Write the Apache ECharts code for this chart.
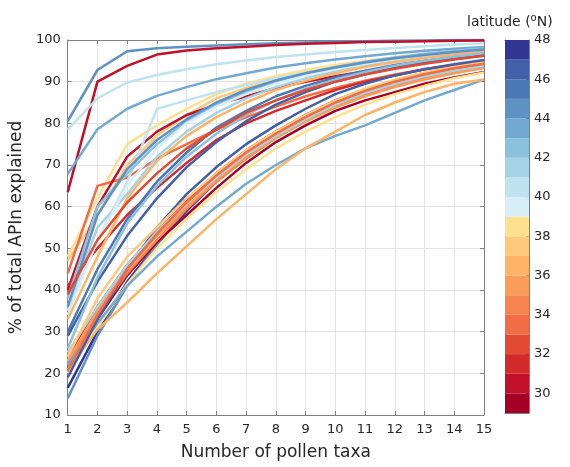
<!DOCTYPE html>
<html>
<head>
<meta charset="utf-8">
<title>APIn vs pollen taxa</title>
<script src="https://cdn.jsdelivr.net/npm/echarts@6/dist/echarts.min.js"></script>
<style>
  html, body { margin: 0; padding: 0; background: #fff; }
  #main { width: 570px; height: 467px; }
</style>
</head>
<body>
<div id="main"></div>
<script type="text/javascript">
// number of pollen taxa (x)
var taxa = [1, 2, 3, 4, 5, 6, 7, 8, 9, 10, 11, 12, 13, 14, 15];

// % of total APIn explained, one array per site
var s01 = [80.5, 92.8, 97.3, 98, 98.4, 98.7, 99, 99.2, 99.4, 99.6, 99.7, 99.8, 99.9, 100, 100];
var s02 = [63.5, 90, 93.8, 96.5, 97.5, 98, 98.4, 98.8, 99.1, 99.3, 99.5, 99.6, 99.7, 99.8, 99.9];
var s03 = [78.5, 86, 89.8, 91.6, 93, 94.2, 95.1, 95.9, 96.5, 97.1, 97.6, 98.1, 98.5, 98.9, 99.2];
var s04 = [67.8, 78.6, 83.5, 86.6, 88.7, 90.6, 92, 93.4, 94.4, 95.3, 96.1, 96.8, 97.4, 97.9, 98.3];
var s05 = [48, 62, 75, 79.5, 83.5, 87, 89.5, 91.3, 92.8, 94, 95, 95.8, 96.6, 97.2, 97.8];
var s06 = [47, 58, 70, 77, 82, 86, 88.5, 90.5, 92, 93.5, 94.7, 95.7, 96.4, 97, 97.5];
var s07 = [44, 65, 67, 71.5, 75, 78.5, 81.5, 84, 86.5, 88.5, 90.2, 91.7, 93, 94, 95];
var s08 = [40, 60, 72, 78, 82, 84.5, 86.5, 88.5, 90, 91.3, 92.5, 93.5, 94.5, 95.5, 96.5];
var s09 = [41, 50, 58, 64.5, 70.5, 76, 80, 83, 85.5, 88, 90, 91.5, 93, 94, 95];
var s10 = [35, 52, 66, 83.5, 85.5, 87.5, 89.2, 90.8, 92.2, 93.4, 94.4, 95.3, 96.1, 96.8, 97.4];
var s11 = [30, 45, 57, 66, 73, 79, 83, 86.5, 89, 91, 92.6, 94, 95, 96, 96.6];
var s12 = [38, 60, 68, 75, 80.5, 84.5, 87.5, 90, 92, 93.5, 94.8, 95.8, 96.7, 97.4, 98];
var s13 = [36, 55, 63, 72, 78, 82.5, 86, 88.7, 90.8, 92.5, 94, 95.2, 96.1, 96.9, 97.5];
var s14 = [34, 52, 65, 74, 80, 84, 87, 89.5, 91.5, 93, 94.3, 95.4, 96.3, 97, 97.6];
var s15 = [33, 48, 62, 71, 77, 81.5, 85, 88, 90.2, 92, 93.5, 94.7, 95.7, 96.5, 97.2];
var s16 = [36, 58, 69, 76, 81, 85, 88, 90.3, 92, 93.4, 94.6, 95.6, 96.4, 97.1, 97.7];
var s17 = [29, 42, 53, 62, 69.5, 75.5, 80.5, 84.5, 87.5, 90, 91.8, 93.3, 94.5, 95.5, 96.3];
var s18 = [26, 43, 56, 65, 72, 77.5, 82, 85.5, 88.3, 90.5, 92.3, 93.8, 95, 96, 96.8];
var s19 = [39, 52, 61, 68, 74, 78.5, 82.5, 85.5, 88, 90, 91.7, 93.1, 94.3, 95.3, 96.2];
var s20 = [16.5, 30, 42, 51, 59, 66, 72, 77, 81.5, 85, 88, 90.3, 92, 93, 94];
var s21 = [14, 29, 41, 51, 59.5, 66.5, 72.5, 77.5, 82, 85.5, 88.2, 90.3, 92, 93.3, 94.5];
var s22 = [21, 33, 43.5, 51.5, 58, 64.5, 70.5, 75.5, 79.5, 83, 85.5, 87.5, 89.5, 91, 92.3];
var s23 = [24, 36, 46, 54, 61.5, 68, 73.5, 78, 82, 85.5, 88, 90, 91.7, 93, 94];
var s24 = [22.5, 34, 44, 52, 59.5, 66, 71.5, 76.5, 80.5, 84, 86.8, 89, 91, 92.5, 93.7];
var s25 = [23, 35, 45, 53, 60, 66.5, 72, 76.5, 80.5, 83.8, 86.5, 88.7, 90.5, 92, 93.3];
var s26 = [20, 31, 41.5, 50, 57, 63.5, 69, 74, 78, 81.5, 84.5, 87, 89, 90.8, 92.2];
var s27 = [22, 32, 41, 48, 54, 60, 65.5, 70, 74, 77, 79.5, 82.5, 85.5, 88, 90.5];
var s28 = [21, 30.5, 37, 44, 50.5, 57, 63, 69, 74, 78, 82, 85, 87.5, 89.5, 90.5];
var s29 = [19, 33, 45, 55, 63, 69.5, 75, 79.5, 83.5, 87, 89.5, 91.5, 93, 94.2, 95.2];
var s30 = [25, 36, 46, 54, 61, 67, 72.5, 77, 81, 84.5, 87.3, 89.5, 91.3, 92.7, 93.8];
var s31 = [24, 38, 48, 55, 62, 68, 73.5, 78, 82, 85.5, 88.3, 90.5, 92.2, 93.5, 94.6];
var s32 = [20.5, 34, 45, 53.5, 61, 67.5, 73, 77.5, 81.5, 85, 87.8, 90, 91.8, 93.2, 94.3];

var siteVals = [s01, s02, s03, s04, s05, s06, s07, s08, s09, s10, s11, s12, s13, s14, s15, s16,
                s17, s18, s19, s20, s21, s22, s23, s24, s25, s26, s27, s28, s29, s30, s31, s32];
// latitude (°N) of each site
var siteLat = [44.3, 30.5, 40.2, 43.4, 38.4, 37.5, 33.5, 30.2, 31.4, 40.5, 45.3, 42.2,
               41.3, 39.3, 36.5, 44.1, 46.2, 42.6, 32.4, 47.6, 44.8, 29.5, 31.6, 34.3,
               35.4, 38.6, 43.2, 36.3, 46.5, 41.6, 37.2, 33.3];

// colorbar bins (lower edge) and colours
var latBins = [29, 30, 31, 32, 33, 34, 35, 36, 37, 38, 39, 40, 41, 42, 43, 44, 45, 46, 47];
var binColors = ['#a50026', '#c0102a', '#d42a2b', '#e34a33', '#f26c45', '#f7834e', '#fb9d5a',
                 '#fdb466', '#fec97c', '#fee08f', '#d8eef6', '#bfe3ef', '#a5d3e6', '#8cc1dc',
                 '#72a9d0', '#5e92c4', '#4d78b6', '#4260a9', '#313695'];
var cbTicks = [30, 32, 34, 36, 38, 40, 42, 44, 46, 48];

function latColor(lat) {
    var i = Math.floor(lat) - latBins[0];
    if (i < 0) i = 0;
    if (i > binColors.length - 1) i = binColors.length - 1;
    return binColors[i];
}

var myChart = echarts.init(document.getElementById('main'));

var series = [];
for (var k = 0; k < siteVals.length; k++) {
    var pts = [];
    for (var j = 0; j < taxa.length; j++) {
        pts.push([taxa[j], siteVals[k][j]]);
    }
    series.push({
        type: 'line',
        xAxisIndex: 0,
        yAxisIndex: 0,
        data: pts,
        showSymbol: false,
        symbol: 'none',
        silent: true,
        lineStyle: { width: 2.5, color: latColor(siteLat[k]) },
        z: 3
    });
}

// colorbar: stacked bars on a second grid
series.push({
    type: 'bar',
    xAxisIndex: 2,
    yAxisIndex: 2,
    stack: 'cb',
    data: [latBins[0]],
    barWidth: '100%',
    itemStyle: { color: 'rgba(0,0,0,0)' },
    silent: true
});
for (var b = 0; b < latBins.length; b++) {
    series.push({
        type: 'bar',
        xAxisIndex: 2,
        yAxisIndex: 2,
        stack: 'cb',
        data: [1],
        barWidth: '100%',
        itemStyle: { color: binColors[b] },
        silent: true
    });
}

var axisCol = '#262626';
var option = {
    animation: false,
    textStyle: { fontFamily: 'DejaVu Sans' },
    title: {
        text: 'latitude ({sup|o}N)',
        left: 462,
        top: 8,
        textStyle: {
            fontSize: 14,
            fontWeight: 'normal',
            color: axisCol,
            rich: {
                sup: { fontSize: 10, verticalAlign: 'top', padding: [0, 0, 8, 0], color: axisCol }
            }
        }
    },
    grid: [
        { left: 64, right: 86, top: 40, bottom: 52 },
        { left: 505, width: 24, top: 40, bottom: 54 }
    ],
    xAxis: [
        {
            type: 'value', gridIndex: 0, min: 1, max: 15, interval: 1,
            name: 'Number of pollen taxa', nameLocation: 'middle', nameGap: 29,
            nameTextStyle: { fontSize: 17, color: axisCol },
            axisLine: { onZero: false, lineStyle: { color: '#808080', width: 1 } },
            axisTick: { inside: true, length: 4, lineStyle: { color: '#808080' } },
            axisLabel: { fontSize: 13, color: axisCol, margin: 8 },
            splitLine: { show: true, lineStyle: { color: '#e3e3e3' } }
        },
        {
            type: 'value', gridIndex: 0, position: 'top', min: 1, max: 15, interval: 1,
            axisLine: { onZero: false, lineStyle: { color: '#808080' } },
            axisTick: { inside: true, length: 4, lineStyle: { color: '#808080' } },
            axisLabel: { show: false },
            splitLine: { show: false }
        },
        {
            type: 'category', gridIndex: 1, data: ['cb'],
            axisLine: { show: true, lineStyle: { color: '#808080' } },
            axisTick: { show: false }, axisLabel: { show: false }
        },
        {
            type: 'category', gridIndex: 1, data: ['cb'], position: 'top',
            axisLine: { show: true, lineStyle: { color: '#808080' } },
            axisTick: { show: false }, axisLabel: { show: false }
        }
    ],
    yAxis: [
        {
            type: 'value', gridIndex: 0, min: 10, max: 100, interval: 10,
            name: '% of total APIn explained', nameLocation: 'middle', nameGap: 38,
            nameTextStyle: { fontSize: 17, color: axisCol },
            axisLine: { show: true, onZero: false, lineStyle: { color: '#808080' } },
            axisTick: { inside: true, length: 4, lineStyle: { color: '#808080' } },
            axisLabel: { fontSize: 13, color: axisCol, margin: 7 },
            splitLine: { show: true, lineStyle: { color: '#e3e3e3' } }
        },
        {
            type: 'value', gridIndex: 0, position: 'right', min: 10, max: 100, interval: 10,
            axisLine: { show: true, onZero: false, lineStyle: { color: '#808080' } },
            axisTick: { inside: true, length: 4, lineStyle: { color: '#808080' } },
            axisLabel: { show: false },
            splitLine: { show: false }
        },
        {
            type: 'value', gridIndex: 1, position: 'right', min: 29, max: 48,
            axisLine: { show: true, onZero: false, lineStyle: { color: '#808080' } },
            axisTick: { show: true, inside: true, length: 3, customValues: cbTicks,
                        lineStyle: { color: '#555' } },
            axisLabel: { fontSize: 13, color: axisCol, margin: 5, customValues: cbTicks },
            splitLine: { show: false }
        },
        {
            type: 'value', gridIndex: 1, position: 'left', min: 29, max: 48,
            axisLine: { show: true, onZero: false, lineStyle: { color: '#808080' } },
            axisTick: { show: false }, axisLabel: { show: false },
            splitLine: { show: false }
        }
    ],
    series: series
};

myChart.setOption(option);
</script>
</body>
</html>
